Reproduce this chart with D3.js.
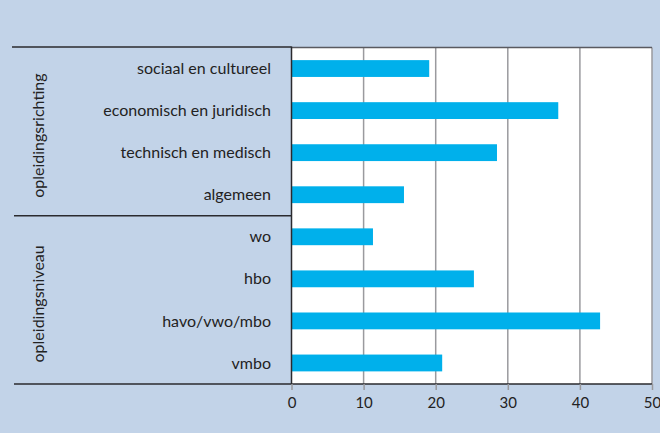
<!DOCTYPE html>
<html lang="nl">
<head>
  <meta charset="UTF-8">
  <title>opleiding</title>
  <style>
    body { margin: 0; background: #c2d3e8; }
    svg { display: block; font-family: "Lato", "Open Sans", sans-serif; }
  </style>
</head>
<body>
  <svg width="660" height="433"></svg>

  <script src="https://cdn.jsdelivr.net/npm/d3@7"></script>
  <script>
    // data
    const categories = ["sociaal en cultureel", "economisch en juridisch", "technisch en medisch", "algemeen",
                        "wo", "hbo", "havo/vwo/mbo", "vmbo"];
    const values = [19.1, 37.0, 28.5, 15.6, 11.3, 25.3, 42.8, 20.9];
    const groups = ["opleidingsrichting", "opleidingsniveau"];
    const groupOf = [0, 0, 0, 0, 1, 1, 1, 1];
    const ticks = [0, 10, 20, 30, 40, 50];

    const svg = d3.select("svg");
    const pLeft = 291.5, pRight = 652, pTop = 47.5, pBottom = 384;

    const x = d3.scaleLinear().domain([0, 50]).range([pLeft, pRight]);
    const y = d3.scaleBand().domain(categories).range([pTop, pBottom]).paddingInner(0.6).paddingOuter(0.3);

    // plot area
    svg.append("rect")
      .attr("x", pLeft).attr("y", pTop)
      .attr("width", pRight - pLeft).attr("height", pBottom - pTop)
      .attr("fill", "#fff");

    // gridlines
    svg.append("g").selectAll("line")
      .data(ticks.slice(1))
      .enter().append("line")
        .attr("x1", d => x(d)).attr("x2", d => x(d))
        .attr("y1", pTop).attr("y2", pBottom)
        .attr("stroke", "#9a9a9e")
        .attr("stroke-width", 1.5);

    // bars
    svg.append("g").selectAll("rect")
      .data(values)
      .enter().append("rect")
        .attr("x", x(0))
        .attr("y", (d, i) => y(categories[i]))
        .attr("width", d => x(d) - x(0))
        .attr("height", y.bandwidth())
        .attr("fill", "#00b0eb");

    // top border
    svg.append("line")
      .attr("x1", 12).attr("x2", pLeft).attr("y1", pTop - 0.5).attr("y2", pTop - 0.5)
      .attr("stroke", "#2a2a2e").attr("stroke-width", 1.5);
    svg.append("line")
      .attr("x1", pLeft).attr("x2", pRight).attr("y1", pTop).attr("y2", pTop)
      .attr("stroke", "#5a5a60").attr("stroke-width", 1.5);

    // group separator
    const sep = (y(categories[3]) + y.bandwidth() + y(categories[4])) / 2;
    svg.append("line")
      .attr("x1", 14).attr("x2", pLeft).attr("y1", sep).attr("y2", sep)
      .attr("stroke", "#2a2a2e").attr("stroke-width", 1.5);

    // bottom axis
    svg.append("line")
      .attr("x1", 14).attr("x2", pRight).attr("y1", pBottom).attr("y2", pBottom)
      .attr("stroke", "#2a2a2e").attr("stroke-width", 1.5);
    svg.append("line")
      .attr("x1", pLeft).attr("x2", pLeft).attr("y1", pTop - 1).attr("y2", pBottom)
      .attr("stroke", "#2a2a2e").attr("stroke-width", 1.5);

    const ax = svg.append("g")
      .attr("transform", `translate(0,${pBottom})`)
      .call(d3.axisBottom(x).tickValues(ticks).tickSize(6).tickPadding(7));
    ax.select(".domain").remove();
    ax.selectAll(".tick line").attr("stroke", "#9a9a9e").attr("stroke-width", 1.5);
    ax.selectAll(".tick text")
      .attr("font-size", 15).attr("fill", "#222")
      .attr("font-family", "Lato, sans-serif");

    // category labels
    svg.append("g").selectAll("text")
      .data(categories)
      .enter().append("text")
        .attr("x", 271)
        .attr("y", d => y(d) + y.bandwidth() / 2)
        .attr("dy", "0.35em")
        .attr("text-anchor", "end")
        .attr("font-size", 16)
        .attr("fill", "#222")
        .text(d => d);

    // group labels
    svg.append("g").selectAll("text")
      .data(groups)
      .enter().append("text")
        .attr("transform", (d, gi) => {
          const idx = categories.filter((c, i) => groupOf[i] === gi);
          const cy = (y(idx[0]) + y(idx[idx.length - 1]) + y.bandwidth()) / 2 + 4;
          return `translate(38,${cy}) rotate(-90)`;
        })
        .attr("dy", "0.35em")
        .attr("text-anchor", "middle")
        .attr("font-size", 16)
        .attr("fill", "#222")
        .text(d => d);
  </script>
</body>
</html>
